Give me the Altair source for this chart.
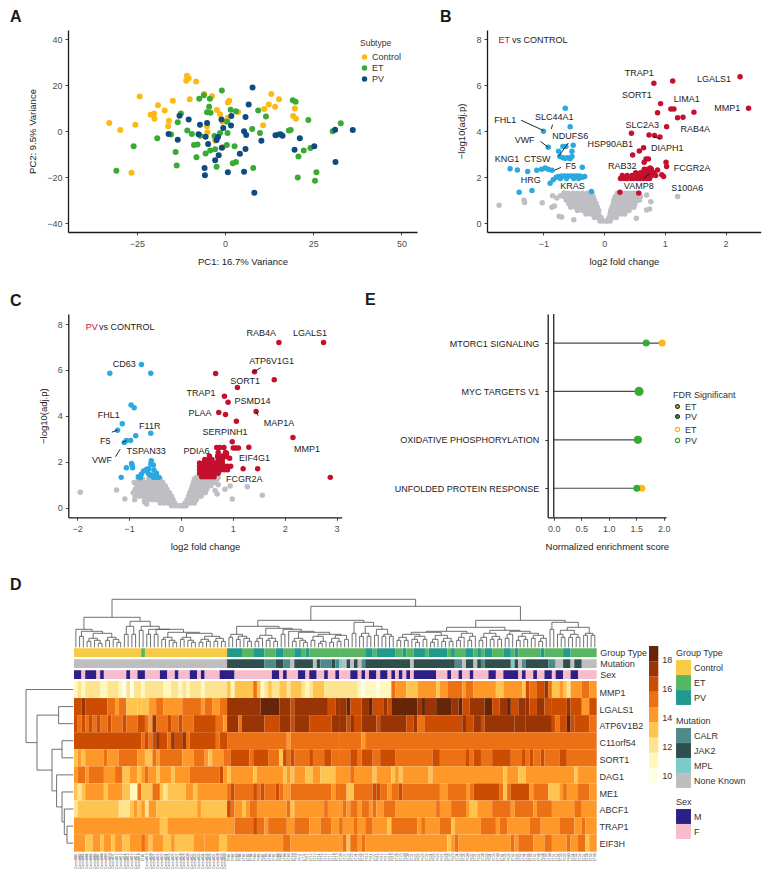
import altair as alt
import pandas as pd

FONT = "Liberation Sans"
W, H = 754, 862

# ---------- Panel A ----------
A_CONTROL = [(-32.8,3.6),(-29.7,0.6),(-25.4,2.9),(-24.2,15.1),(-26.5,-18.0),(-21.1,7.2),(-20.1,7.7),(-20.0,5.5),(-19.0,11.3),(-17.1,9.0),(-15.9,4.6),(-16.1,2.2),(-14.8,13.3),(-11.0,22.0),(-10.8,24.1),(-10.3,23.0),(-8.2,21.6),(-10.0,13.9),(-5.9,16.2),(-3.7,15.2),(-5.1,2.2),(-5.0,-0.4),(-2.3,9.3),(-1.4,7.4),(-0.7,4.2),(0.8,5.9),(0.8,12.5),(1.2,13.3),(3.7,8.4),(-2.8,-4.1),(-0.5,-6.8),(10.8,2.6),(11.1,9.7),(12.4,11.7),(13.1,16.2),(14.2,10.7),(15.3,13.9),(19.8,9.9),(19.3,6.7),(20.1,5.5)]
A_ET = [(-30.8,-17.1),(-25.9,-6.5),(-19.2,-3.0),(-15.3,-1.4),(-14.0,-9.0),(-13.7,-14.8),(-13.4,3.9),(-12.5,7.7),(-10.7,0.4),(-9.4,-1.2),(-8.8,-5.9),(-7.8,-5.7),(-8.1,-11.3),(-7.0,-1.9),(-7.3,14.2),(-6.0,15.7),(-4.3,14.1),(-4.5,10.7),(-5.1,8.3),(-4.1,8.1),(-0.9,17.7),(1.6,9.4),(3.1,8.7),(-3.0,-2.0),(-1.4,-0.7),(0.7,-0.7),(0.6,4.2),(0.5,-5.9),(2.7,-6.5),(-5.5,-9.6),(-4.2,-8.3),(-2.8,-7.8),(-2.4,-15.4),(2.2,-13.9),(3.1,-13.3),(8.0,-15.9),(7.7,1.0),(9.9,-0.7),(9.4,9.0),(11.6,6.4),(15.1,-1.4),(18.1,0.4),(18.6,0.6),(19.2,13.5),(20.0,12.8),(23.6,4.9),(20.8,-10.9),(22.3,-8.3),(24.2,-7.2),(20.6,-20.0),(25.5,-21.4),(25.9,-17.8),(30.5,0.0),(32.8,3.5)]
A_PV = [(-16.0,-1.2),(-13.4,-3.6),(-12.9,6.8),(-10.3,5.1),(-7.1,2.9),(-7.5,-1.3),(-5.5,-2.3),(-5.1,3.6),(-4.8,-5.5),(-5.8,-15.9),(-5.7,-19.1),(-2.8,-12.5),(-1.8,-10.4),(-2.0,-2.5),(-2.4,-3.8),(-0.9,-7.1),(-0.5,1.4),(-1.0,5.1),(1.8,6.7),(1.7,2.5),(0.8,-17.8),(4.2,-9.7),(5.8,-7.7),(5.4,0.0),(6.0,-1.6),(5.8,6.2),(6.7,11.7),(7.8,19.0),(5.4,-17.5),(10.3,-4.1),(8.3,-26.7),(14.3,-1.7),(15.7,-1.3),(16.3,-1.9),(19.7,-8.0),(21.2,-3.0),(25.3,-6.5),(31.2,0.7),(31.3,-13.3),(36.2,0.6)]

# ---------- Panel B ----------
B_GREY_ROWS = {
 1.30:[-.60,-.52,-.44,-.36,-.28,-.20,.22,.28,.34,.40,.46,.52,.58],
 1.15:[-.66,-.58,-.50,-.42,-.34,-.26,-.18,.18,.24,.30,.36,.42,.48,.54,.60],
 1.00:[-.62,-.54,-.46,-.38,-.30,-.22,-.16,.16,.22,.28,.34,.40,.46,.52,.58],
 0.85:[-.58,-.50,-.42,-.34,-.26,-.18,-.13,.15,.21,.27,.33,.39,.45,.51],
 0.70:[-.55,-.47,-.39,-.31,-.23,-.16,-.11,.13,.19,.25,.31,.37,.43,.49],
 0.55:[-.44,-.36,-.28,-.20,-.13,-.09,.11,.17,.23,.29,.35,.41],
 0.40:[-.30,-.22,-.15,-.09,.10,.16,.22,.28,.34],
 0.25:[-.16,-.10,-.05,.08,.14,.20],
 0.10:[-.07,-.02,.03,.05,.10],
}
B_GREY_EXTRA = [(-1.73,.78),(-1.32,1.0),(-1.31,.9),(-1.02,.89),(-.85,1.2),(1.21,1.16),(.70,1.23),(.77,.93),(.70,.58),(.75,.62),(.53,.22),(-.86,.7),(-.82,.75),(-.74,.3),(-.70,.27),(-.5,.15),(-.78,1.1),(-.72,1.2),(-.66,1.32)]
B_BLUE = [(-.64,5.0),(-1.0,4.0),(-.56,4.19),(-.92,3.3),(-.51,3.39),(-.68,3.34),(-.63,3.34),(-.75,3.13),(-.53,3.13),(-.53,2.9),(-.73,2.9),(-.68,2.85),(-.64,2.83),(-.60,2.85),(-.56,2.8),(-1.55,2.37),(-1.43,2.31),(-1.26,2.25),(-1.11,2.3),(-1.03,2.35),(-.97,2.4),(-.92,2.35),(-.86,2.3),(-.36,2.43),(-.32,2.03),(-.89,1.74),(-.84,1.89),(-1.40,1.35),(-1.19,1.42),(-.21,1.38),(-.75,2.03),(-.70,2.05),(-.65,2.05),(-.60,2.05),(-.55,2.05),(-.50,2.05),(-.45,2.05),(-.40,2.05),(-.36,2.0),(-.79,2.0),(-.72,1.95),(-.62,1.95),(-.50,1.95),(-.42,1.95)]
B_RED = [(.82,6.09),(1.13,6.18),(2.24,6.37),(2.38,5.0),(.93,5.2),(.88,4.8),(1.10,4.97),(1.15,4.97),(1.21,4.59),(1.30,4.61),(1.48,4.83),(1.03,4.2),(.45,3.91),(.74,3.84),(.83,3.81),(.92,3.75),(.65,3.28),(.58,3.14),(.47,2.97),(.69,2.79),(.73,2.79),(.66,2.65),(1.02,2.65),(1.03,2.47),(.76,2.4),(.88,2.31),(.95,2.11),(.98,2.03),(.26,1.35),(.57,1.31),
 (.27,1.95),(.33,1.95),(.38,1.95),(.44,1.95),(.49,1.95),(.55,1.95),(.60,1.95),(.65,1.95),(.70,1.95),(.75,1.95),
 (.30,2.08),(.38,2.08),(.46,2.08),(.54,2.08),(.62,2.08),(.70,2.08),(.78,2.08),(.85,2.08),
 (.52,2.2),(.60,2.2),(.68,2.2),(.74,2.2),(.82,2.2),(.66,2.35),(.72,2.35),(.78,2.35)]
B_LABELS = [("TRAP1",.58,6.51),("SORT1",.54,5.57),("LGALS1",1.81,6.26),("LIMA1",1.36,5.38),("MMP1",2.03,4.99),("RAB4A",1.5,4.1),("SLC2A3",.63,4.26),("HSP90AB1",.10,3.44),("DIAPH1",1.04,3.27),("RAB32",.30,2.47),("FCGR2A",1.45,2.4),("VAMP8",.57,1.63),("S100A6",1.37,1.53),("FHL1",-1.63,4.49),("SLC44A1",-.82,4.64),("VWF",-1.31,3.62),("NDUFS6",-.56,3.79),("KNG1",-1.6,2.78),("CTSW",-1.10,2.81),("F5",-.55,2.49),("HRG",-1.21,1.88),("KRAS",-.52,1.61)]
B_LINKS = [(-1.37,4.48,-1.0,4.03),(-1.05,3.56,-.92,3.3),(-.85,4.29,-.87,4.1),(-.59,3.49,-.75,2.91),(-.71,2.43,-.82,2.3),(.75,2.15,.65,1.95),(.82,3.76,.92,3.67)]

# ---------- Panel C ----------
C_GREY_ROWS = {
 1.32:[.30,.45,.60,.72],
 1.25:[-.82,-.74,-.62,-.54,-.46,-.40,.26,.32,.38,.44,.50,.56,.62,.70],
 1.10:[-.90,-.82,-.74,-.66,-.58,-.50,-.42,-.35,.24,.30,.36,.42,.48,.54,.60,.66],
 0.95:[-.84,-.76,-.68,-.60,-.52,-.44,-.36,-.30,.22,.28,.34,.40,.46,.52,.58],
 0.80:[-.88,-.80,-.72,-.64,-.56,-.48,-.40,-.32,-.27,.20,.26,.32,.38,.44,.50],
 0.65:[-.92,-.84,-.76,-.68,-.60,-.52,-.44,-.36,-.28,-.22,.17,.23,.29,.35,.41,.47],
 0.50:[-.88,-.80,-.72,-.64,-.56,-.48,-.40,-.32,-.24,-.18,.15,.21,.27,.33,.39],
 0.35:[-.70,-.62,-.54,-.46,-.38,-.30,-.22,-.15,.12,.18,.24,.30],
 0.20:[-.40,-.32,-.25,-.18,-.12,.08,.14,.20,.26],
 0.08:[-.18,-.12,-.06,0,.04,.06,.10],
}
C_GREY_EXTRA = [(-1.94,.67),(-1.24,.77),(-1.08,.38),(1.57,.54),(1.28,.91),(.99,.38),(.85,.8),(.95,.94),(-.86,1.03),(-.89,.35),(-.66,.16),(-.70,.25),(.72,1.0),(.66,.75),(.70,.6)]
C_BLUE = [(-1.37,5.86),(-.76,6.24),(-.58,5.86),(-.96,4.47),(-.90,4.35),(-1.13,3.66),(-1.22,3.37),(-.58,3.24),(-.87,3.13),(-.97,2.93),(-1.05,2.93),(-1.09,2.84),(-1.05,1.74),(-.95,1.93),(-.93,1.74),(-1.15,1.32),(-.82,1.35),(-.76,1.47),(-.66,1.67),(-.57,2.05),(-.53,1.86),(-.52,1.64),(-.47,1.5),(-.42,1.32),(-.63,1.5),(-.6,1.42),(-.55,1.42),(-.72,1.6),(-.58,1.9),(-.48,1.32),(-.53,1.32),(-.78,1.3),(-.62,1.7),(-.94,1.85)]
C_RED = [(1.89,7.2),(2.75,7.2),(.67,5.85),(1.80,5.57),(1.42,5.92),(1.09,5.24),(.84,4.86),(.91,4.59),(.73,4.15),(.86,4.06),(1.45,4.19),(1.07,3.77),(2.16,3.06),(.99,2.87),(2.88,1.32),(1.31,2.63),(1.20,1.70),(1.48,1.70),(.69,2.62),(.75,2.62),(.83,2.62),(1.01,2.6),(1.06,2.6),(1.11,2.6),(.71,2.23),(.88,2.37),(.88,2.23),(.94,2.15),
 (.40,1.35),(.46,1.35),(.52,1.35),(.58,1.35),(.64,1.35),
 (.36,1.5),(.42,1.5),(.48,1.5),(.54,1.5),(.60,1.5),(.66,1.5),(.72,1.5),
 (.36,1.65),(.42,1.65),(.48,1.65),(.54,1.65),(.60,1.65),(.66,1.65),(.72,1.65),(.78,1.65),(.84,1.65),(.90,1.65),
 (.36,1.8),(.42,1.8),(.48,1.8),(.54,1.8),(.60,1.8),(.66,1.8),(.72,1.8),(.78,1.8),(.84,1.8),(.90,1.8),(.96,1.8),
 (.36,1.95),(.44,1.95),(.50,1.95),(.56,1.95),(.62,1.95),(.68,1.95),(.74,1.95),(.80,1.95),
 (.46,2.1),(.54,2.1),(.60,2.1),(.72,2.1),(.80,2.1),(.55,2.25),(.71,2.25),(.80,2.25),(.72,2.4),(.86,2.4)]
C_LABELS = [("RAB4A",1.55,7.62),("LGALS1",2.49,7.62),("ATP6V1G1",1.75,6.37),("CD63",-1.09,6.25),("SORT1",1.24,5.53),("TRAP1",.39,5.01),("PSMD14",1.38,4.66),("PLAA",.37,4.14),("MAP1A",1.89,3.70),("FHL1",-1.39,4.06),("F11R",-.60,3.54),("SERPINH1",.85,3.29),("F5",-1.46,2.90),("TSPAN33",-.67,2.48),("PDIA6",.30,2.48),("MMP1",2.43,2.57),("EIF4G1",1.42,2.18),("VWF",-1.52,2.08),("FCGR2A",1.22,1.26)]
C_LINKS = [(1.54,6.1,1.38,5.89),(1.49,4.01,1.45,4.18),(-1.33,3.29,-1.22,3.38),(-1.13,2.83,-1.05,2.92),(-1.26,2.22,-1.17,2.55)]

# ---------- Panel E ----------
E_TERMS = ["MTORC1 SIGNALING","MYC TARGETS V1","OXIDATIVE PHOSPHORYLATION","UNFOLDED PROTEIN RESPONSE"]
E_ET = [1.97, None, None, 1.60]
E_PV = [1.68, 1.55, 1.53, 1.51]
E_RATIO_PV = [.30, .60, .45, .30]

# ---------- Panel D ----------
GENES = ["MMP1","LGALS1","ATP6V1B2","C11orf54","SORT1","DAG1","ME1","ABCF1","TRAP1","EIF3H"]
HEAT = {
"MMP1":[(1,1),(2,1),(1,1),(2,4),(1,2),(2,3),(1,1),(0,1),(2,1),(0,1),(2,2),(1,1),(2,5),(1,2),(2,2),(1,1),(2,1),(1,1),(2,3),(1,1),(2,6),
        (3,1),(1,1),(3,5),(5,1),(3,1),(1,1),(2,1),(3,1),(2,2),(3,2),(2,1),(3,3),(2,1),(1,1),(2,1),(3,3),(2,4),
        (2,5),(1,1),(0,1),(1,3),(0,1),(1,3),(5,1),(4,3),(3,3),(4,5),(3,1),(4,2),(5,4),(4,1),(5,2),(4,6),(3,2),(4,5),(3,1),(6,1),(5,2),(6,2),(7,1),(5,1),(3,2),(4,1),(3,1),(2,1),(4,3),(5,2),(4,2)],
"LGALS1":[(6,2),(7,1),(6,6),(5,2),(4,1),(5,2),(3,3),(3,1),(3,2),(4,2),(5,2),(4,5),(5,5),(4,1),(5,2),(4,2),(5,2),
        (7,9),(8,5),(7,3),(6,1),(7,9),(6,2),(7,1),
        (7,2),(8,1),(6,3),(7,2),(8,1),(6,3),(7,1),(6,1),(8,7),(7,1),(8,1),(7,3),(8,4),(7,2),(8,1),(6,2),(7,4),(8,2),(6,2),(7,2),(8,1),(6,2),(7,2),(7,1),(6,2),(7,2),(6,2),(6,4),(7,1),(6,3),(4,2),(6,2)],
"ATP6V1B2":[(6,1),(5,1),(6,1),(5,1),(6,1),(5,1),(6,1),(5,2),(6,1),(5,3),(6,1),(5,3),(6,2),(5,1),(4,1),(7,1),(5,3),(6,1),(5,2),(6,1),(5,3),(6,6),(5,2),(4,1),
        (7,3),(5,1),(7,6),(6,4),(7,3),(6,1),(7,4),(6,6),(7,2),
        (7,2),(6,1),(7,1),(6,2),(7,4),(6,1),(7,7),(6,2),(7,1),(5,2),(6,10),(7,1),(6,2),(7,2),(6,1),(7,8),(7,3),(7,7),(6,1),(5,1),(6,2),(8,1),(6,1),(6,4),(5,2)],
"C11orf54":[(6,18),(5,1),(6,1),(5,1),(6,1),(7,1),(6,2),(5,1),(7,1),(6,2),(7,1),(5,1),(6,7),(5,1),(6,2),
        (5,16),(4,1),(5,13),
        (5,6),(4,1),(5,62)],
"SORT1":[(3,1),(4,1),(3,1),(4,5),(5,1),(4,3),(5,5),(4,2),(3,2),(5,1),(4,1),(5,6),(4,3),(5,3),(4,1),(3,1),(4,3),(5,1),
        (5,1),(6,5),(5,1),(6,4),(5,3),(3,1),(6,1),(5,1),(6,1),(5,4),(6,1),(5,3),(6,2),(5,2),
        (5,3),(6,2),(5,1),(6,3),(5,2),(6,4),(5,10),(6,2),(5,7),(6,1),(5,1),(6,2),(5,3),(6,5),(5,3),(6,1),(5,1),(6,1),(5,2),(6,1),(5,4),(6,2),(5,8)],
"DAG1":[(4,1),(5,2),(4,1),(5,4),(4,3),(5,2),(3,2),(4,2),(3,1),(4,1),(5,1),(4,2),(3,1),(4,3),(3,1),(4,4),(5,8),(6,1),(4,1),
        (3,1),(4,6),(3,1),(4,7),(3,1),(4,1),(3,1),(4,3),(3,2),(4,2),(3,4),(4,1),
        (4,3),(5,1),(4,5),(3,1),(4,4),(3,1),(4,1),(3,1),(4,7),(3,1),(4,19),(3,1),(4,3),(3,2),(4,13),(3,1),(4,5)],
"ME1":[(3,1),(2,1),(3,1),(4,5),(3,1),(4,4),(3,2),(1,2),(5,1),(3,1),(3,2),(5,2),(3,1),(2,1),(3,5),(4,2),(3,1),(4,8),
        (5,1),(6,1),(5,5),(6,1),(5,1),(6,1),(5,3),(6,1),(5,1),(4,2),(5,11),(4,1),(5,1),
        (5,2),(3,2),(5,5),(6,1),(6,1),(5,2),(4,1),(5,2),(6,1),(5,10),(4,2),(5,5),(4,1),(5,1),(6,7),(5,1),(3,1),(5,1),(6,5),(4,1),(5,4),(3,3),(4,1),(5,1),(4,3),(5,3),(4,2)],
"ABCF1":[(2,1),(3,11),(2,3),(3,1),(4,1),(3,1),(4,1),(2,1),(4,2),(3,11),(4,1),(3,7),
        (6,1),(5,1),(4,2),(3,1),(4,1),(5,2),(4,8),(5,1),(3,1),(4,8),(5,1),(4,3),
        (4,1),(5,1),(4,1),(5,2),(4,1),(5,2),(4,1),(5,1),(4,2),(5,3),(4,11),(5,1),(4,3),(5,4),(4,1),(3,2),(4,4),(5,5),(4,1),(5,5),(4,1),(5,4),(4,6),(5,2),(4,4)],
"TRAP1":[(4,23),(3,2),(4,16),
        (4,2),(5,5),(6,1),(5,2),(4,1),(5,5),(4,2),(5,4),(4,3),(5,3),(4,2),
        (5,1),(4,3),(5,1),(4,2),(5,2),(4,4),(3,1),(5,7),(4,1),(5,1),(4,4),(5,3),(3,1),(4,7),(5,4),(4,1),(5,2),(4,6),(5,3),(4,5),(5,4),(4,2),(5,1),(4,3)],
"EIF3H":[(4,3),(3,2),(4,2),(3,1),(4,2),(3,1),(4,2),(3,2),(4,3),(5,1),(4,1),(3,1),(4,3),(3,2),(4,1),(3,5),(4,3),(4,4),(3,2),
        (4,15),(5,2),(4,13),
        (4,1),(5,1),(3,1),(5,2),(4,1),(5,1),(4,22),(3,1),(4,1),(5,1),(4,14),(5,1),(4,1),(5,4),(4,3),(5,2),(4,4),(5,1),(4,2),(5,2),(3,1),(4,2)],
}
YLORBR = ["#ffffe5","#fff7bc","#fee391","#fec44f","#fe9929","#ec7014","#cc4c02","#993404","#662506"]
COLORBAR_BREAKS = [9.47,10.5,11.55,12.6,13.65,14.7,15.75,16.8,17.85,18.9]

GROUP = [("Control",18),("ET",1),("Control",22),
  ("PV",4),("ET",3),("PV",3),("ET",3),("PV",2),("ET",3),("PV",2),("ET",1),("PV",1),("ET",8),
  ("ET",7),("PV",2),("ET",1),("PV",5),("ET",2),("PV",1),("ET",2),("PV",3),("ET",1),("PV",5),("ET",1),("PV",1),("ET",3),("PV",2),("ET",1),("PV",1),("ET",1),("PV",2),("ET",3),("PV",2),("ET",1),("PV",1),("ET",6),("PV",1),("ET",5),("PV",2),("ET",7)]
MUTATION = [("None Known",41),
  ("JAK2",10),("CALR",3),("JAK2",2),("CALR",2),("None Known",1),("JAK2",5),("None Known",1),("JAK2",1),("CALR",3),("JAK2",1),("CALR",1),
  ("MPL",1),("None Known",1),("JAK2",1),("None Known",1),("JAK2",1),("None Known",1),("CALR",1),("JAK2",12),("None Known",1),("JAK2",11),("CALR",2),("None Known",1),("JAK2",2),("None Known",1),("JAK2",1),("CALR",1),("JAK2",7),("MPL",1),("JAK2",1),("None Known",1),("CALR",1),("JAK2",6),("CALR",2),("None Known",2),("JAK2",2),("None Known",1),("JAK2",2),("None Known",4)]
SEX = [("M",2),("F",1),("M",3),("F",1),("M",1),("F",6),("M",1),("F",2),("M",2),("F",4),("M",2),("F",2),("M",1),("F",3),("M",2),("F",1),("M",1),("F",4),("M",4),("F",10),("M",2),("F",1),("M",1),("F",3),("M",2),("F",1),("M",2),("F",2),("M",1),("F",2),("M",1),
  ("F",3),("M",2),("F",1),("M",1),("F",1),("M",2),("F",1),("M",2),("F",1),("M",1),("F",1),("M",1),("F",1),("M",1),("F",1),("M",6),("F",3),("M",1),("F",2),("M",1),("F",2),("M",1),("F",4),("M",2),("F",2),("M",4),("F",1),("M",1),("F",2),("M",1),("F",2),("M",2),("F",1),("M",2),("F",2),("M",2),("F",5)]

# Dendrograms: (merge height, child, child); 1 is a single leaf
G1 = (10,(8,1,1),(7,1,(5,1,1)))
G2 = (14,(10,(8,1,1),(7,1,(5,1,1))),(11,(8,(5,1,1),(6,1,1)),(9,(6,1,1),(6,1,1))))
TOP_LEFT = (30,
  (18,1,(16,(11,1,1),(14,(9,(6,1,1),(7,1,(4,1,1))),(10,(7,1,1),(8,1,(5,1,1)))))),
  (26,(21,(13,1,1),(13,1,1)),(21,(17,1,1),(18,(13,1,1),(18,(13,1,1),(15,G1,G2))))))
R1A = (21,(13,(10,1,1),(11,(8,1,1),(9,1,(6,1,1)))),
  (19,(12,(9,(6,1,1),1),(9,(7,1,1),(6,1,1))),
      (18,(13,1,1),(16,1,(15,(9,(6,1,1),(7,1,(5,1,1))),(13,(11,(7,1,1),(6,(4,1,1),1)),(12,(9,(5,1,1),(6,1,1)),(8,1,1))))))))
R1B = (25,(14,1,1),(21,(14,(11,1,1),(11,1,1)),(18,(12,1,1),(13,(11,1,1),(11,1,1)))))
R2AL = (16,(15,(13,(10,(7,1,1),(7,1,1)),(11,(8,1,(5,1,1)),(8,1,1))),(12,(8,(5,1,1),1),(9,(6,1,1),(6,1,1)))),(14,(10,(7,1,1),1),(11,(7,1,1),1)))
R2AR = (17,(14,(10,(7,1,1),1),(11,(8,1,1),(8,1,1))),(16,(13,(9,1,1),1),(14,(11,(7,1,1),(8,1,1)),(12,(9,1,1),(9,(6,1,1),1)))))
R2B = (25,(18,1,1),(20,(17,(13,1,(10,1,1)),(13,(10,1,1),(10,1,1))),(14,(12,1,1),(12,1,1))))
TOP_TREE = (48, TOP_LEFT, (41,(27,R1A,R1B),(27,(20,R2AL,R2AR),R2B)))
LEFT_TREE = (47.3,1,(36.3,(14.7,1,1),(21.3,(11.3,1,1),(16.7,1,(11.3,1,(9,1,(6.3,1,1)))))))

# ---------- helpers ----------
def sc(domain, rng):
    return alt.Scale(domain=domain, range=rng, nice=False, zero=False)

def rows_to_pts(rows, extra):
    return [(x, y) for y, xs in rows.items() for x in xs] + list(extra)

AXIS_STYLE = dict(grid=False, domainColor="#1a1a1a", domainWidth=1.3, tickColor="#333333", tickSize=3, tickWidth=0.9,
                  labelFont=FONT, labelFontSize=9, labelColor="#4d4d4d",
                  titleFont=FONT, titleFontSize=9.5, titleFontWeight="normal", titleColor="#222222")

def axis_x(ypos, title, values, title_pad=6):
    return alt.Axis(orient="bottom", offset=ypos - H, title=title, values=values, labelPadding=4, titlePadding=title_pad, **AXIS_STYLE)

def axis_y(xpos, title, values, title_pad=6):
    return alt.Axis(orient="left", offset=-xpos, title=title, values=values, labelPadding=3, titlePadding=title_pad, **AXIS_STYLE)

def points(pts, color, size, xs, ys, xaxis=None, yaxis=None):
    df = pd.DataFrame(pts, columns=["x", "y"])
    return alt.Chart(df).mark_circle(size=size, color=color, opacity=1).encode(
        x=alt.X("x:Q", scale=xs, axis=xaxis), y=alt.Y("y:Q", scale=ys, axis=yaxis))

def labels(items, xs, ys, color="#222222", align="center", size=9):
    df = pd.DataFrame(items, columns=["t", "x", "y"])
    return alt.Chart(df).mark_text(font=FONT, fontSize=size, color=color, align=align, baseline="middle").encode(
        x=alt.X("x:Q", scale=xs, axis=None), y=alt.Y("y:Q", scale=ys, axis=None), text="t:N")

def links(items, xs, ys, color="#111111", width=0.9):
    df = pd.DataFrame(items, columns=["x", "y", "x2", "y2"])
    return alt.Chart(df).mark_rule(color=color, strokeWidth=width).encode(
        x=alt.X("x:Q", scale=xs, axis=None), y=alt.Y("y:Q", scale=ys, axis=None), x2="x2:Q", y2="y2:Q")

def letter(t, x, y):
    return alt.Chart(pd.DataFrame({"t": [t]})).mark_text(font=FONT, fontSize=16, fontWeight="bold", color="#1a1a1a",
        align="left", baseline="middle").encode(x=alt.value(x), y=alt.value(y), text="t:N")

def expand_runs(runs):
    out, start = [], 0
    for v, n in runs:
        out.append((start, start + n, v))
        start += n
    return out

layers = []
PT_A, PT_V = 36, 30

# ---------- A ----------
xa = sc([-44.5, 54.4], [60, 409])
ya = sc([-43.7, 44.0], [224, 22])
a_rows = [("Control",)+p for p in A_CONTROL] + [("ET",)+p for p in A_ET] + [("PV",)+p for p in A_PV]
layers.append(alt.Chart(pd.DataFrame(a_rows, columns=["Subtype", "x", "y"])).mark_circle(size=PT_A, opacity=1).encode(
    x=alt.X("x:Q", scale=xa, axis=axis_x(224, "PC1: 16.7% Variance", [-25, 0, 25, 50], 8)),
    y=alt.Y("y:Q", scale=ya, axis=axis_y(60, "PC2: 9.5% Variance", [-40, -20, 0, 20, 40], 9)),
    color=alt.Color("Subtype:N", scale=alt.Scale(domain=["Control", "ET", "PV"], range=["#FDB913", "#3AAA35", "#0F4A80"]),
        legend=alt.Legend(orient="none", legendX=352, legendY=31, title="Subtype", titleFont=FONT, titleFontSize=8.5,
            titleFontWeight="normal", titleColor="#333333", labelFont=FONT, labelFontSize=9, labelColor="#333333",
            symbolType="circle", symbolSize=30, rowPadding=1, labelOffset=3, titlePadding=5, symbolStrokeWidth=0, padding=0))))

# ---------- B ----------
xb = sc([-1.93, 2.58], [479, 752.7])
yb = sc([-.38, 8.4], [224, 22])
layers.append(points(rows_to_pts(B_GREY_ROWS, B_GREY_EXTRA), "#BFBEC3", PT_V, xb, yb,
    axis_x(224, "log2 fold change", [-1, 0, 1, 2], 8), axis_y(479, "−log10(adj.p)", [0, 2, 4, 6, 8], 9)))
layers.append(points(B_BLUE, "#29A9E0", PT_V, xb, yb))
layers.append(points(B_RED, "#C4102E", PT_V, xb, yb))
layers.append(links(B_LINKS, xb, yb))
layers.append(labels(B_LABELS, xb, yb))
layers.append(labels([("ET", -1.74, 7.98)], xb, yb, "#C4102E", "left"))
layers.append(labels([("vs CONTROL", -1.52, 7.98)], xb, yb, "#222222", "left"))

# ---------- C ----------
xc = sc([-2.17, 3.10], [60.3, 333.7])
yc = sc([-.42, 8.44], [509.3, 306])
layers.append(points(rows_to_pts(C_GREY_ROWS, C_GREY_EXTRA), "#BFBEC3", PT_V, xc, yc,
    axis_x(509.3, "log2 fold change", [-2, -1, 0, 1, 2, 3], 8), axis_y(60.3, "−log10(adj.p)", [0, 2, 4, 6, 8], 9)))
layers.append(points(C_BLUE, "#29A9E0", PT_V, xc, yc))
layers.append(points(C_RED, "#C4102E", PT_V, xc, yc))
layers.append(links(C_LINKS, xc, yc))
layers.append(labels(C_LABELS, xc, yc))
layers.append(labels([("PV", -1.835, 7.88)], xc, yc, "#C4102E", "left"))
layers.append(labels([("vs CONTROL", -1.578, 7.88)], xc, yc, "#222222", "left"))

# ---------- E ----------
xe = sc([-.11, 2.04], [539.7, 658])
ye = alt.Scale(type="point", domain=E_TERMS, range=[306, 509.3], padding=0.6)
e_max = [{"term": t, "x": 0, "x2": max(v for v in (a, b) if v is not None)} for t, a, b in zip(E_TERMS, E_ET, E_PV)]
e_y_style = {k: v for k, v in AXIS_STYLE.items() if k not in ("labelColor",)}
layers.append(alt.Chart(pd.DataFrame(e_max)).mark_rule(color="#4a4a4a", strokeWidth=1.2).encode(
    x=alt.X("x:Q", scale=xe, axis=axis_x(509.3, "Normalized enrichment score", [0, .5, 1, 1.5, 2], 8)),
    x2="x2:Q",
    y=alt.Y("term:N", scale=ye, axis=alt.Axis(orient="left", offset=-539.7, title=None, labelColor="#222222", labelPadding=6, labelLimit=220, **{k: v for k, v in e_y_style.items() if not k.startswith("title")}))))
layers.append(alt.Chart(pd.DataFrame({"x": [0]})).mark_rule(color="#111111", strokeWidth=1.2).encode(
    x=alt.X("x:Q", scale=xe, axis=None), y=alt.value(306), y2=alt.value(509.3)))
e_pts = [{"term": t, "x": v, "Group": "ET", "r": .30} for t, v in zip(E_TERMS, E_ET) if v is not None] + \
        [{"term": t, "x": v, "Group": "PV", "r": r} for t, v, r in zip(E_TERMS, E_PV, E_RATIO_PV)]
e_df = pd.DataFrame(e_pts)
fdr_colors = ["#FDB913", "#3AAA35"]
layers.append(alt.Chart(e_df).mark_circle(opacity=1).encode(
    x=alt.X("x:Q", scale=xe, axis=None), y=alt.Y("term:N", scale=ye, axis=None),
    size=alt.Size("r:Q", scale=alt.Scale(domain=[.3, .6], range=[50, 84]), legend=None),
    color=alt.Color("Group:N", scale=alt.Scale(domain=["ET", "PV"], range=fdr_colors),
        legend=alt.Legend(orient="none", legendX=665, legendY=383, title="FDR Significant", titleFont=FONT, titleFontSize=9,
            titleFontWeight="normal", titleColor="#333333", labelFont=FONT, labelFontSize=9, labelColor="#333333",
            symbolType="circle", symbolSize=14, symbolStrokeColor="#222222", symbolStrokeWidth=1.2, rowPadding=0, labelOffset=3, titlePadding=2))))
layers.append(alt.Chart(e_df).mark_point(filled=False, opacity=1, size=6, strokeWidth=1.2).encode(
    x=alt.X("x:Q", scale=xe, axis=None), y=alt.Y("term:N", scale=ye, axis=None),
    stroke=alt.Stroke("Group:N", scale=alt.Scale(domain=["ET", "PV"], range=fdr_colors),
        legend=alt.Legend(orient="none", legendX=665, legendY=417, title=None, labelFont=FONT, labelFontSize=9, labelColor="#333333",
            symbolType="circle", symbolSize=18, symbolStrokeWidth=1.2, rowPadding=0, labelOffset=3))))

# ---------- D ----------
xd = sc([0, 140], [66, 588.7])

def tree_layout(node, counter, segs):
    if not isinstance(node, tuple):
        pos = counter[0] + .5
        counter[0] += 1
        return pos, 0
    h, a, b = node
    pa, ha = tree_layout(a, counter, segs)
    pb, hb = tree_layout(b, counter, segs)
    segs += [(pa, h, pb, h), (pa, ha, pa, h), (pb, hb, pb, h)]
    return (pa + pb) / 2, h

top_segs = []
tree_layout(TOP_TREE, [0], top_segs)
ytop = sc([0, 48], [639.3, 591.3])
layers.append(links(top_segs, xd, ytop, "#4d4d4d", 0.8))

left_segs = []
tree_layout(LEFT_TREE, [0], left_segs)
yrow_q = sc([0, 10], [673, 843.7])
xleft = sc([0, 47.5], [65.3, 17.8])
layers.append(links([(h1, p1, h2, p2) for p1, h1, p2, h2 in left_segs], xleft, yrow_q, "#4d4d4d", 0.8))

def legend_sq(title, y):
    return alt.Legend(orient="none", legendX=668, legendY=y, title=title, titleFont=FONT, titleFontSize=9, titleFontWeight="normal",
        titleColor="#333333", labelFont=FONT, labelFontSize=9, labelColor="#333333", symbolType="square", symbolSize=222,
        symbolStrokeWidth=0, rowPadding=0, labelOffset=3, titlePadding=2, symbolOffset=0)

TRACKS = ["Group Type", "Mutation", "Sex"]
ytrack = alt.Scale(type="band", domain=TRACKS, range=[640.3, 671], paddingInner=0.2, paddingOuter=0)
track_axis = alt.Axis(orient="right", offset=588.7 - W, title=None, domain=False, ticks=False, grid=False, labelFont=FONT, labelFontSize=9,
                      labelColor="#333333", labelPadding=3)
track_specs = [("Group Type", GROUP, ["Control", "ET", "PV"], ["#F8CB46", "#58B562", "#1F9A8C"], "Group Type", 641),
               ("Mutation", MUTATION, ["CALR", "JAK2", "MPL", "None Known"], ["#4F8A8B", "#2F4F4F", "#7CCBC9", "#BEBEBE"], "Mutation", 709),
               ("Sex", SEX, ["M", "F"], ["#2E1F87", "#F7BCCB"], "Sex", 790)]
for i, (name, runs, dom, rng, ttl, ly) in enumerate(track_specs):
    df = pd.DataFrame([(name, s, e, v) for s, e, v in expand_runs(runs)], columns=["track", "s", "e", "v"])
    layers.append(alt.Chart(df).mark_rect().encode(
        x=alt.X("s:Q", scale=xd, axis=None), x2="e:Q",
        y=alt.Y("track:N", scale=ytrack, axis=track_axis if i == 0 else None),
        color=alt.Color("v:N", scale=alt.Scale(domain=dom, range=rng), legend=legend_sq(ttl, ly))))

heat_rows = [(g, s, e, v) for g in GENES for s, e, v in expand_runs(HEAT[g])]
yrow = alt.Scale(type="band", domain=GENES, range=[673, 843.7], paddingInner=0, paddingOuter=0)
heat_color = alt.Scale(domain=list(range(9)), range=YLORBR)
layers.append(alt.Chart(pd.DataFrame(heat_rows, columns=["gene", "s", "e", "lvl"])).mark_rect().encode(
    x=alt.X("s:Q", scale=xd, axis=None), x2="e:Q",
    y=alt.Y("gene:N", scale=yrow, axis=None),
    color=alt.Color("lvl:O", scale=heat_color, legend=None)))
# gene names, slightly lower than the row centres as in the reference
ygene = alt.Scale(type="band", domain=GENES, range=[676.3, 844.3], paddingInner=0, paddingOuter=0)
layers.append(alt.Chart(pd.DataFrame({"gene": GENES})).mark_text(font=FONT, fontSize=9, color="#333333", align="left", baseline="middle").encode(
    x=alt.value(591.5), y=alt.Y("gene:N", scale=ygene, axis=None), text="gene:N"))

# colour bar
ybar = sc([9.47, 18.9], [775, 638])
bar_rows = [(COLORBAR_BREAKS[i], COLORBAR_BREAKS[i + 1], i) for i in range(9)]
layers.append(alt.Chart(pd.DataFrame(bar_rows, columns=["y", "y2", "lvl"])).mark_rect().encode(
    x=alt.value(641), x2=alt.value(650.3),
    y=alt.Y("y:Q", scale=ybar, axis=alt.Axis(orient="right", offset=650.3 - W, values=[10, 12, 14, 16, 18], title=None, domain=False, ticks=False,
        grid=False, labelFont=FONT, labelFontSize=9, labelColor="#333333", labelPadding=3.5)),
    y2="y2:Q", color=alt.Color("lvl:O", scale=heat_color, legend=None)))

# sample labels
samples, counts, col = [], {}, 0
for g, n in GROUP:
    for _ in range(n):
        counts[g] = counts.get(g, 0) + 1
        samples.append((col + .5, f"{g}{counts[g]:03d}" if g == "Control" else f"{g}{counts[g]:02d}"))
        col += 1
layers.append(alt.Chart(pd.DataFrame(samples, columns=["x", "t"])).mark_text(font=FONT, fontSize=3.2, color="#555555", angle=270,
    align="right", baseline="middle").encode(x=alt.X("x:Q", scale=xd, axis=None), y=alt.value(845.5), text="t:N"))

# panel letters
layers += [letter("A", 2, 9), letter("B", 432, 9), letter("C", 2, 293), letter("E", 357, 292), letter("D", 2, 577)]

chart = alt.layer(*layers).resolve_scale(x="independent", y="independent", color="independent", stroke="independent", size="independent").properties(
    width=W, height=H, padding=0, autosize=alt.AutoSizeParams(type="none", contains="padding"), background="white"
).configure_view(stroke=None)

chart.save("out.html", embed_options={"renderer": "svg", "actions": False})
